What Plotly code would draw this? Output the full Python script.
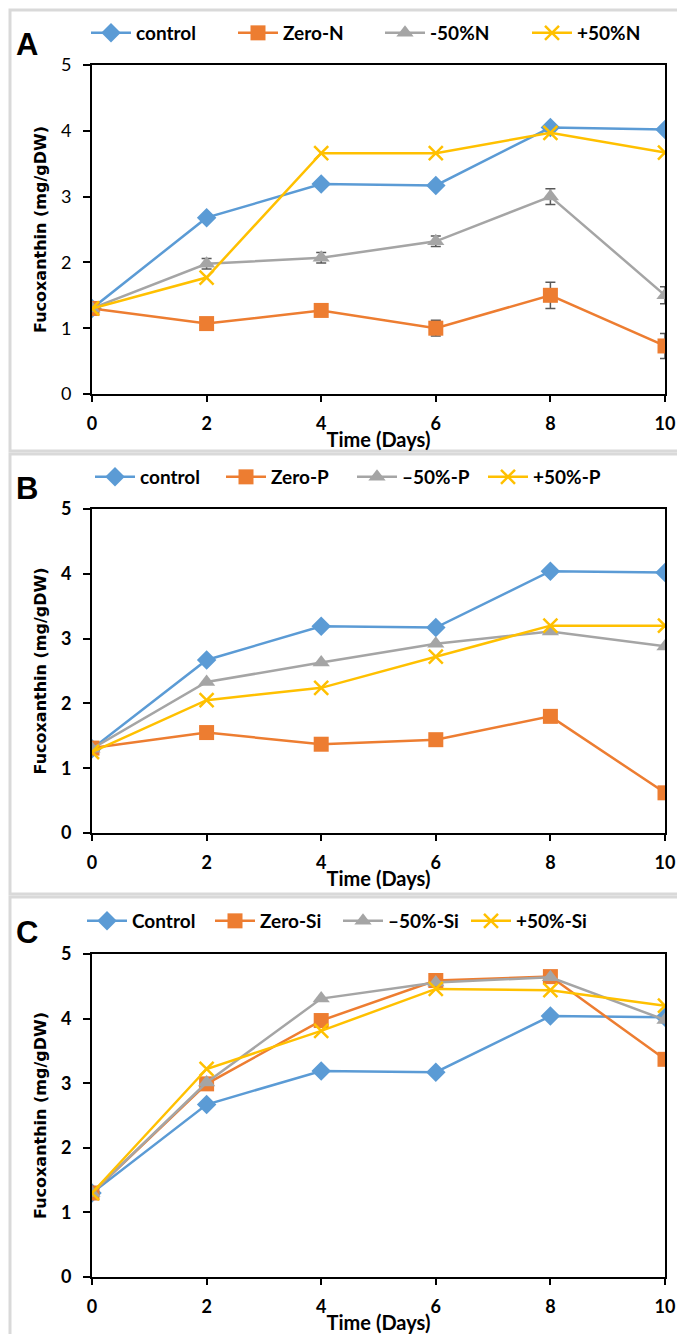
import plotly.graph_objects as go

days = [0, 2, 4, 6, 8, 10]

# Panel A (nitrogen)
a_names = ["control", "Zero-N", "-50%N", "+50%N"]
a_control = [1.30, 2.68, 3.19, 3.17, 4.05, 4.02]
a_zero = [1.30, 1.07, 1.27, 1.00, 1.50, 0.73]
a_minus = [1.30, 1.98, 2.07, 2.32, 3.00, 1.50]
a_plus = [1.30, 1.77, 3.66, 3.66, 3.97, 3.67]
a_zero_err = [0.03, 0.04, 0.04, 0.12, 0.20, 0.19]
a_minus_err = [0.03, 0.08, 0.08, 0.08, 0.12, 0.13]

# Panel B (phosphorus)
b_names = ["control", "Zero-P", "\u201350%-P", "+50%-P"]
b_control = [1.30, 2.67, 3.19, 3.17, 4.04, 4.02]
b_zero = [1.31, 1.55, 1.37, 1.44, 1.80, 0.62]
b_minus = [1.30, 2.33, 2.63, 2.92, 3.11, 2.88]
b_plus = [1.25, 2.05, 2.24, 2.72, 3.20, 3.20]

# Panel C (silicon)
c_names = ["Control", "Zero-Si", "\u201350%-Si", "+50%-Si"]
c_control = [1.30, 2.67, 3.19, 3.17, 4.04, 4.02]
c_zero = [1.30, 2.99, 3.97, 4.59, 4.65, 3.37]
c_minus = [1.30, 3.01, 4.31, 4.56, 4.64, 3.98]
c_plus = [1.30, 3.22, 3.81, 4.46, 4.44, 4.20]

y_ticks = [0, 1, 2, 3, 4, 5]
x_ticks = [0, 2, 4, 6, 8, 10]
panel_labels = ["A", "B", "C"]

colors = ["#5B9BD5", "#ED7D31", "#A5A5A5", "#FFC000"]
symbols = ["diamond", "square", "triangle-up", "x-thin"]
sizes = [15, 15, 15, 14]

W, H = 685, 1334
fig = go.Figure()

panels = [
    (a_names, [a_control, a_zero, a_minus, a_plus], [None, a_zero_err, a_minus_err, None]),
    (b_names, [b_control, b_zero, b_minus, b_plus], [None, None, None, None]),
    (c_names, [c_control, c_zero, c_minus, c_plus], [None, None, None, None]),
]

plot_px = [(57, 386), (501, 825), (946, 1269)]
legend_px = [25, 469, 913]
legend_x = [78, 82, 74]
legend_ew = [92, 76, 73]
frame_px = [(2, 443), (446, 886), (889, 1332)]
x_left, x_right = 84, 657

def py(v):
    return 1 - v / H

for i, (names, series, errs) in enumerate(panels):
    xa = "x" if i == 0 else f"x{i+1}"
    ya = "y" if i == 0 else f"y{i+1}"
    lg = "legend" if i == 0 else f"legend{i+1}"
    for j in range(4):
        mk = dict(color=colors[j], symbol=symbols[j], size=sizes[j])
        if symbols[j] == "x-thin":
            mk["line"] = dict(color=colors[j], width=2.5)
        tr = go.Scatter(
            x=days, y=series[j], name=names[j], mode="lines+markers",
            line=dict(color=colors[j], width=2.5), marker=mk,
            xaxis=xa, yaxis=ya, legend=lg,
        )
        if errs[j] is not None:
            tr.error_y = dict(type="data", array=errs[j], visible=True,
                              color="#595959", thickness=1.5, width=5)
        fig.add_trace(tr)

    top, bot = plot_px[i]
    axis_common = dict(showline=True, linecolor="black", linewidth=2, mirror=True,
                       ticks="outside", tickcolor="black", tickwidth=2,
                       showgrid=False, zeroline=False, automargin=False)
    fig.layout[f"xaxis{'' if i == 0 else i+1}"] = dict(
        domain=[x_left / W, x_right / W], anchor=ya, range=[0, 10],
        tickvals=x_ticks, ticklen=6,
        tickfont=dict(family="Lato", size=18, color="black", weight="bold"),
        ticklabelstandoff=6,
        title=dict(text="<b>Time (Days)</b>", font=dict(family="Lato", size=20, color="black"),
                   standoff=0),
        **axis_common,
    )
    fig.layout[f"yaxis{'' if i == 0 else i+1}"] = dict(
        domain=[py(bot), py(top)], anchor=xa, range=[0, 5],
        tickvals=y_ticks, ticklen=7,
        tickfont=dict(family="Lato", size=18, color="black",
                      weight="normal" if i == 0 else "bold"),
        ticklabelstandoff=8,
        title=dict(text="<b>Fucoxanthin (mg/gDW)</b>",
                   font=dict(family="DejaVu Sans", size=16, color="black"),
                   standoff=10),
        **axis_common,
    )
    leg = dict(
        orientation="h", x=legend_x[i] / W,
        xanchor="left", y=py(legend_px[i]), yanchor="middle",
        font=dict(family="Lato", size=19, color="black", weight="bold"),
        bgcolor="rgba(0,0,0,0)", itemwidth=40, tracegroupgap=0,
        entrywidth=legend_ew[i], entrywidthmode="pixels",
    )
    fig.layout[lg] = leg
    fig.add_annotation(
        text=f"<b>{panel_labels[i]}</b>", xref="paper", yref="paper",
        x=6 / W, y=py(legend_px[i] + 11), xanchor="left", yanchor="middle",
        showarrow=False, font=dict(family="Liberation Sans", size=31, color="black"),
    )
    ft, fb = frame_px[i]
    fig.add_shape(type="rect", xref="paper", yref="paper",
                  x0=2 / W, x1=683 / W, y0=py(fb), y1=py(ft),
                  line=dict(color="#D9D9D9", width=3), layer="below")

fig.update_layout(
    width=W, height=H, margin=dict(l=0, r=0, t=0, b=0, autoexpand=False),
    paper_bgcolor="white", plot_bgcolor="white", showlegend=True,
)

fig.write_html("out.html")
